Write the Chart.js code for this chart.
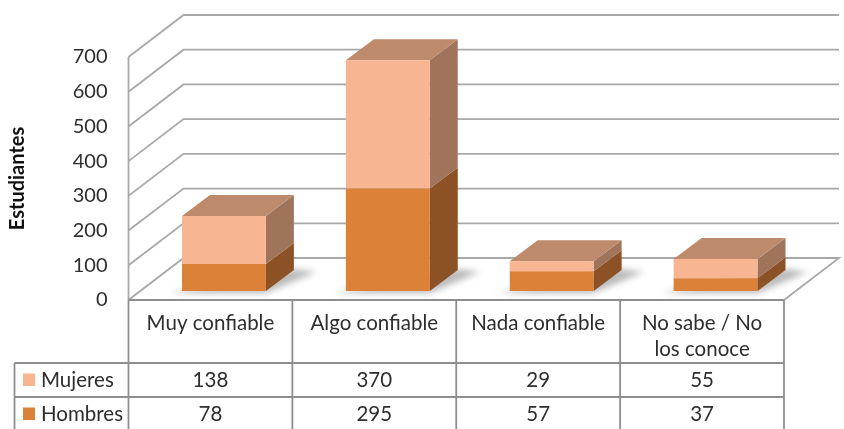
<!DOCTYPE html>
<html>
<head>
<meta charset="utf-8">
<style>
html,body{margin:0;padding:0;background:#fff;overflow:hidden}
canvas{display:block;filter:blur(0.45px)}
</style>
<script src="https://cdn.jsdelivr.net/npm/chart.js@4"></script>
</head>
<body>
<canvas id="c" width="844" height="429"></canvas>
<script>
const categories = [["Muy confiable"], ["Algo confiable"], ["Nada confiable"], ["No sabe / No", "los conoce"]];
const mujeres = [138, 370, 29, 55];
const hombres = [78, 295, 57, 37];
const yTicksMax = 700;
const yTickStep = 100;
const FONT = "Lato, 'Open Sans', sans-serif";
const TEXT = "#2e2e2e";

const palette = {
  Hombres: {front: "#DC8238", side: "#8C5125", top: "#B07A50"},
  Mujeres: {front: "#F8B592", side: "#A0745A", top: "#BE8A6C"}
};
const depth = {wallX: 55, wallY: -42, barX: 28, barY: -21, shiftX: 13.5, shiftY: -9};

function poly(ctx, pts, fill) {
  ctx.beginPath();
  pts.forEach((p, i) => i ? ctx.lineTo(p[0], p[1]) : ctx.moveTo(p[0], p[1]));
  ctx.closePath();
  ctx.fillStyle = fill;
  ctx.fill();
}

const threeD = {
  id: "threeD",
  beforeDatasetsDraw(chart) {
    const {ctx, chartArea: a, scales: {y}} = chart;
    ctx.save();
    ctx.strokeStyle = "#A8A8A8";
    ctx.lineWidth = 1.8;
    for (let v = yTickStep; v <= yTicksMax; v += yTickStep) {
      const p = y.getPixelForValue(v);
      ctx.beginPath();
      ctx.moveTo(a.left, p);
      ctx.lineTo(a.left + depth.wallX, p + depth.wallY);
      ctx.lineTo(a.right + depth.wallX, p + depth.wallY);
      ctx.stroke();
    }
    const z = y.getPixelForValue(0);
    ctx.beginPath();
    ctx.moveTo(a.left, z);
    ctx.lineTo(a.left + depth.wallX, z + depth.wallY);
    ctx.lineTo(a.right + depth.wallX, z + depth.wallY);
    ctx.lineTo(a.right, z);
    ctx.stroke();
    ctx.beginPath();
    ctx.moveTo(a.left, y.getPixelForValue(yTicksMax));
    ctx.lineTo(a.left, z);
    ctx.stroke();
    ctx.restore();

    ctx.save();
    ctx.translate(depth.shiftX, depth.shiftY);
    const base = chart.getDatasetMeta(0).data;
    ctx.save();
    ctx.filter = "blur(3px)";
    base.forEach(b => {
      const l = b.x - b.width / 2, r = b.x + b.width / 2;
      poly(ctx, [[l - 12, b.base + 2], [r, b.base + 2], [r + depth.barX + 22, b.base + depth.barY + 2], [r + depth.barX, b.base + depth.barY - 1]], "rgba(90,90,90,0.42)");
    });
    ctx.restore();
    chart.data.datasets.forEach((ds, di) => {
      const c = palette[ds.label];
      chart.getDatasetMeta(di).data.forEach(b => {
        const r = b.x + b.width / 2, l = b.x - b.width / 2;
        poly(ctx, [[r, b.base], [r + depth.barX, b.base + depth.barY], [r + depth.barX, b.y + depth.barY], [r, b.y]], c.side);
        if (di === chart.data.datasets.length - 1) {
          poly(ctx, [[l, b.y], [l + depth.barX, b.y + depth.barY], [r + depth.barX, b.y + depth.barY], [r, b.y]], c.top);
        }
      });
    });
  },
  afterDatasetsDraw(chart) {
    chart.ctx.restore();
  },
  afterDraw(chart) {
    const {ctx, chartArea: a} = chart;
    const rows = [
      {label: "Mujeres", values: mujeres, top: 363, bottom: 397},
      {label: "Hombres", values: hombres, top: 397, bottom: 431}
    ];
    const tableLeft = 14.5;
    const colW = (a.right - a.left) / categories.length;
    ctx.save();
    ctx.strokeStyle = "#8E8E8E";
    ctx.lineWidth = 1.8;
    ctx.beginPath();
    ctx.moveTo(a.left, a.bottom); ctx.lineTo(a.right, a.bottom);
    for (let i = 0; i <= categories.length; i++) {
      ctx.moveTo(a.left + i * colW, a.bottom);
      ctx.lineTo(a.left + i * colW, 431);
    }
    ctx.moveTo(tableLeft, 363); ctx.lineTo(tableLeft, 431);
    rows.forEach(r => {
      ctx.moveTo(tableLeft, r.top); ctx.lineTo(a.right, r.top);
      ctx.moveTo(tableLeft, r.bottom); ctx.lineTo(a.right, r.bottom);
    });
    ctx.stroke();
    ctx.font = "20.5px " + FONT;
    ctx.fillStyle = TEXT;
    ctx.textBaseline = "middle";
    rows.forEach(r => {
      const mid = (r.top + r.bottom) / 2;
      ctx.fillStyle = palette[r.label].front;
      ctx.fillRect(23, mid - 6.5, 12, 12.5);
      ctx.fillStyle = TEXT;
      ctx.textAlign = "left";
      ctx.fillText(r.label, 41, mid);
      ctx.textAlign = "center";
      r.values.forEach((v, i) => ctx.fillText(String(v), a.left + (i + 0.5) * colW, mid));
    });
    ctx.restore();
  }
};

new Chart(document.getElementById("c"), {
  type: "bar",
  data: {
    labels: categories,
    datasets: [
      {label: "Hombres", data: hombres, backgroundColor: palette.Hombres.front, borderWidth: 0},
      {label: "Mujeres", data: mujeres, backgroundColor: palette.Mujeres.front, borderWidth: 0}
    ]
  },
  options: {
    responsive: false,
    animation: false,
    layout: {padding: {top: 57, right: 60, left: 0, bottom: 0}},
    plugins: {legend: {display: false}, tooltip: {enabled: false}},
    datasets: {bar: {categoryPercentage: 1, barPercentage: 0.512}},
    scales: {
      x: {
        stacked: true,
        grid: {display: false},
        border: {display: false},
        ticks: {font: {family: FONT, size: 20.5, lineHeight: "26px"}, color: TEXT, padding: 2, maxRotation: 0, autoSkip: false},
        afterFit(s) { s.height = 129; }
      },
      y: {
        stacked: true,
        min: 0,
        max: yTicksMax,
        grid: {display: false},
        border: {display: false},
        ticks: {stepSize: yTickStep, font: {family: FONT, size: 20}, color: TEXT, padding: 13},
        title: {display: true, text: "Estudiantes", color: "#111", font: {family: FONT, size: 20, weight: "bold"}, padding: {top: 6, bottom: 0}},
        afterFit(s) { s.width = 128.5; }
      }
    }
  },
  plugins: [threeD]
});
</script>
</body>
</html>
